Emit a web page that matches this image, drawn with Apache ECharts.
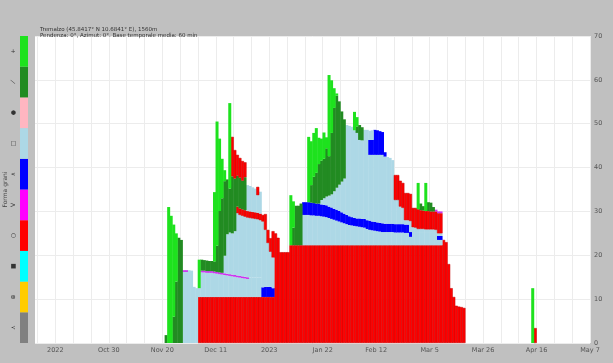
<!DOCTYPE html>
<html><head><meta charset="utf-8">
<script src="https://cdn.jsdelivr.net/npm/echarts@6/dist/echarts.min.js"></script>
<style>html,body{margin:0;padding:0;background:#c0c0c0}#c{width:613px;height:363px}</style>
</head><body><div id="c"></div>
<script>
// ---- axis / legend data ----
const ORIGIN = Date.UTC(2022, 9, 1);           // day 0 = 1 Oct 2022
const X_MAX_DAY = 218;                          // 7 May 2023
const tickDays   = [8, 29, 50, 71, 92, 113, 134, 155, 176, 197, 218];
const tickLabels = ['2022','Oct 30','Nov 20','Dec 11','2023','Jan 22','Feb 12','Mar 5','Mar 26','Apr 16','May 7'];
const grainSymbols = ['⋏','⊕','■','○','V','∧','□','●','⟋','+'];   // bottom -> top
const grainColors  = ['#808080','#ffcc00','#00ffff','#ff0000','#ff00ff','#0000ff','#add8e6','#ffb6c1','#228b22','#1ee21e'];

// ---- layer thicknesses [cm], one value per day from a start date ----
const mfBaseDec = [10.5,10.5,10.5,10.5,10.5,10.5,10.5,10.5,10.5,10.5,10.5,10.5,10.5,10.5,10.5,10.5,10.5,10.5,10.5,10.5,10.5,10.5,10.5,10.5,10.5,10.5,10.5,10.5,10.5,10.5,25,24,20.7,20.7,20.7,20.7];
const mfBaseJan = [22.3,22.3,22.3,22.3,22.3,22.3,22.3,22.3,22.3,22.3,22.3,22.3,22.3,22.3,22.3,22.3,22.3,22.3,22.3,22.3,22.3,22.3,22.3,22.3,22.3,22.3,22.3,22.3,22.3,22.3,22.3,22.3,22.3,22.3,22.3,22.3,22.3,22.3,22.3,22.3,22.3,22.3,22.3,22.3,22.3,22.3,22.3,22.3,22.3,22.3,22.3,22.3,22.3,22.3,22.3,22.3,22.3,22.3,22.3,22.3,23.5,23,18,12.5,10.5,8.5,8.3,8.2,8];
const mfBaseApr = [3.4];
const fcLowNov = [16.2,16.2,16.6,16.5,12.8,12.5,2,5.6,5.6,5.5,5.5,5.5,5.4,5.3,5.2,5.1,5.0,4.9,4.8,4.7,4.6,4.5,4.4,4.3,4.2,4.1,4.4,4.4,4.4,4.4,4.4];
const fcLowJan = [6.9,6.9,6.9,6.8,6.8,6.7,6.7,6.6,6.5,6.4,6.2,6.0,5.8,5.6,5.4,5.2,5.0,4.8,4.6,4.5,4.4,4.3,4.2,4.1,4.0,3.7,3.5,3.4,3.3,3.2,3.1,3.0,3.0,3.0,3.0,3.0,2.9,2.9,2.9,2.9,2.8,2.8,1.9,3,3,3,3,3,3,3,3,3,3,1.2,1.2];
const shNov = [0.4,0.4];
const shDec = [0.4,0.4,0.4,0.4,0.4,0.4,0.4,0.4,0.4,0.4,0.4,0.4,0.4,0.4,0.4,0.4,0.4,0.4,0.4];
const shMar = [0.4,0.4,0.4];
const dhBandDec = [2.2,2.3,2.3,2.3,2.0];
const dhBandJan = [2.9,2.9,2.9,2.9,2.8,2.8,2.8,2.7,2.7,2.7,2.6,2.6,2.5,2.5,2.4,2.3,2.2,2.1,2.0,1.9,1.8,1.8,1.9,1.9,2.0,2.0,2.1,2.0,2.0,2.0,2.0,2.0,1.9,1.9,1.9,1.9,1.9,1.9,1.9,1.9,1.9,1.9,1.1];
const dhBandMar = [0.9,0.9];
const fcMidDec = [4,9,9.5,9.4,10,14.2,13.9,13.8,13.7,13.6,13.6,13.5,13.4,13.3,13.1,15,13,10,8,7];
const fcMidJan = [1,1.5,2,2.5,3,4,5,6,7,8,20.5,20.6,20.6,20,19.5,17.9,17.9,20.3,20.6,15,15.2,15.3,15.4,15.5,15.6,15.3,15.2,15.0,14.5,5.5,5.5,4,3.7,1,1,2.5,1.1,1.0,0.7,0.7,0.7,0.6,0.6,0.6,0.6,0.5,0.6,0.6];
const mfBandDec = [1.5,1.5,1.5,1.5,1.5,1.5,1.5,1.5,1.5,1.5,1.5,3.6,3,3.1,6];
const fcUpDec = [5.9,5.8,5.6,5.4,4,5];
const dhTopFeb = [3.4,3.4,5.7,5.6,5.4,5.2,1.0];
const fcTopFeb = [2.1,2.2];
const dfNov = [1.8,0,0,6,14,24,23.5];
const dfDec = [2.5,2.4,2.4,2.3,2.3,2.3,6,14,17,17,12.5,10,13,12,7,7,6.5,7.5];
const dfJanA = [4,9,9,9.5];
const dfJanB = [4,6,7,9,9,9,11,9,14,19,21,19,16,13.5];
const dfFeb = [1.5,3.4,3.0];
const mfTopDec = [9,6.5,4.8,4.5,4.5,3.4];
const mfTopDec2 = [1.9];
const mfTopFeb = [5.7,5.7,5.9,5.7,6.2,6.2,6.2,4.4,4.5,4.5,4.3,4.2,4.2,4.2,4.1,4.1,4.2,4.6,4.6];
const dfMar = [1.5,1,0,2,2,1];
const ppNov = [31,29,21,11];
const ppDec1 = [6.5];
const ppDec2 = [15.8,28.3,16.5,9,2.5,0,19.5];
const ppJan1 = [11.4,6];
const ppJan2 = [14.9,10,10,10.2,6,5,6,2.5,18.5,12,4.5,0.5];
const ppFeb = [4.2,2.1];
const ppMar = [6,0,0,6.4];
const ppApr = [12.5];

// stacking order (bottom -> top), colour, and which arrays fill it from which date
const layers = [
  {color:'#ff0000', red:true, segs:[['2022-12-04',mfBaseDec],['2023-01-09',mfBaseJan],['2023-04-15',mfBaseApr]]},
  {color:'#add8e6', segs:[['2022-11-28',fcLowNov],['2023-01-14',fcLowJan]]},
  {color:'#cc33ee', segs:[['2022-11-28',shNov],['2022-12-05',shDec]]},
  {color:'#0000ff', segs:[['2022-12-29',dhBandDec],['2023-01-14',dhBandJan],['2023-03-08',dhBandMar]]},
  {color:'#add8e6', segs:[['2022-12-14',fcMidDec],['2023-01-21',fcMidJan]]},
  {color:'#ff0000', red:true, segs:[['2022-12-19',mfBandDec]]},
  {color:'#add8e6', segs:[['2022-12-23',fcUpDec]]},
  {color:'#0000ff', segs:[['2023-02-09',dhTopFeb]]},
  {color:'#add8e6', segs:[['2023-02-09',fcTopFeb]]},
  {color:'#228b22', segs:[['2022-11-21',dfNov],['2022-12-05',dfDec],['2023-01-10',dfJanA],['2023-01-17',dfJanB],['2023-02-04',dfFeb]]},
  {color:'#ff0000', red:true, segs:[['2022-12-17',mfTopDec],['2022-12-27',mfTopDec2],['2023-02-19',mfTopFeb]]},
  {color:'#cc33ee', segs:[['2023-03-07',shMar]]},
  {color:'#228b22', segs:[['2023-03-01',dfMar]]},
  {color:'#1ee21e', segs:[['2022-11-22',ppNov],['2022-12-04',ppDec1],['2022-12-10',ppDec2],['2023-01-09',ppJan1],['2023-01-16',ppJan2],['2023-02-03',ppFeb],['2023-02-28',ppMar],['2023-04-14',ppApr]]}
];

const dayOf = s => { const [y,m,d] = s.split('-').map(Number); return Math.round((Date.UTC(y,m-1,d)-ORIGIN)/86400000); };
const FIRST = 51, LAST = 196;
const dayList = []; for (let d = FIRST; d <= LAST; d++) dayList.push(d);

const series = layers.map(L => {
  const vals = dayList.map(() => null);
  L.segs.forEach(([start, arr]) => {
    const s = dayOf(start);
    arr.forEach((v, i) => { const k = s + i - FIRST; if (v > 0) vals[k] = v; });
  });
  return {
    type:'bar', stack:'snow', xAxisIndex:0, yAxisIndex:0, barWidth:3, silent:true,
    encode:{x:1, y:0},
    itemStyle: L.red ? {color:L.color, borderColor:'#c40000', borderWidth:0.5} : {color:L.color},
    data: dayList.map((d, i) => [vals[i], d + 0.5])
  };
});

const weekly = []; for (let d = 1; d <= X_MAX_DAY; d += 7) weekly.push(d);

series.push({
  type:'bar', xAxisIndex:1, yAxisIndex:1, barWidth:'100%', silent:true,
  data: grainColors.map(c => ({value:1, itemStyle:{color:c}}))
});

const chart = echarts.init(document.getElementById('c'), null, {renderer:'canvas'});
chart.setOption({
  animation:false,
  backgroundColor:'#c0c0c0',
  textStyle:{fontFamily:'DejaVu Sans'},
  title:{
    text:'Tremalzo (45.8417° N 10.6841° E), 1560m\nPendenza: 0°, Azimut: 0°. Base temporale media: 60 min',
    left:35, top:21,
    textStyle:{fontSize:5.5, fontWeight:'normal', color:'#333', lineHeight:6.5}
  },
  grid:[
    {left:35, right:23, top:36, bottom:20, show:true, backgroundColor:'#ffffff', borderWidth:0, outerBoundsMode:'none', containLabel:false},
    {left:20, width:8, top:36, bottom:20, outerBoundsMode:'none', containLabel:false}
  ],
  xAxis:[
    {type:'value', gridIndex:0, min:0, max:X_MAX_DAY,
     axisLine:{show:false},
     axisTick:{show:false, customValues:weekly},
     splitLine:{show:true, lineStyle:{color:'#ececec', width:1}},
     axisLabel:{customValues:tickDays, fontSize:6.5, color:'#555', margin:4,
       formatter: v => tickLabels[tickDays.indexOf(Math.round(v))] || ''}},
    {type:'value', gridIndex:1, min:0, max:1, show:false}
  ],
  yAxis:[
    {type:'value', gridIndex:0, position:'right', min:0, max:70, interval:10,
     axisLine:{show:false}, axisTick:{show:false},
     splitLine:{lineStyle:{color:'#ececec'}},
     axisLabel:{fontSize:6.5, color:'#555', margin:4},
     name:'Altezza neve [cm]', nameLocation:'middle', nameGap:16, nameRotate:90,
     nameTextStyle:{fontSize:6, color:'#444'}},
    {type:'category', gridIndex:1, data:grainSymbols,
     axisLine:{show:false}, axisTick:{show:false},
     axisLabel:{rotate:90, fontSize:6, color:'#333', margin:4},
     name:'Forma grani', nameLocation:'middle', nameGap:12, nameRotate:90,
     nameTextStyle:{fontSize:6, color:'#444'}}
  ],
  series: series
});
</script></body></html>
